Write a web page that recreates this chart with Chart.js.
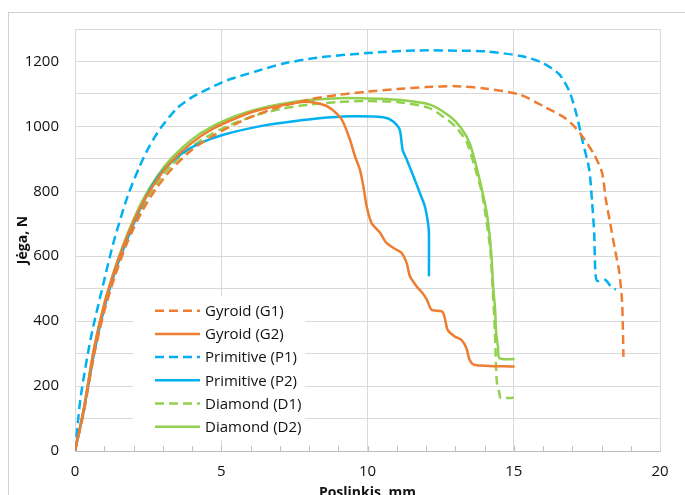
<!DOCTYPE html>
<html>
<head>
<meta charset="utf-8">
<script src="https://cdn.jsdelivr.net/npm/chart.js@4.4.1/dist/chart.umd.min.js"></script>
<style>
  body { margin: 0; background: #fff; }
  #wrap { width: 685px; height: 495px; }
</style>
</head>
<body>
<div id="wrap"><canvas id="grafico" width="685" height="495"></canvas></div>
<script>
// [poslinkis mm, jėga N]
const gyroidG1 = [[0,0],[0.3,120],[0.65,295],[1.0,430],[1.35,535],[1.8,645],[2.3,740],[2.8,812],[3.3,868],[4.0,928],[4.7,970],[5.5,1008],[6.2,1035],[7,1060],[8,1083],[9,1097],[10,1107],[11,1115],[12,1121],[13,1124],[14,1117],[15.2,1098],[16.1,1058],[16.8,1023],[17.25,981],[17.75,913],[18.02,857],[18.15,774],[18.3,700],[18.45,625],[18.6,555],[18.7,466],[18.73,380],[18.75,290]];
const gyroidG2 = [[0,0],[0.3,130],[0.65,315],[1.0,452],[1.35,556],[1.8,665],[2.3,762],[2.8,835],[3.3,892],[4.0,950],[4.7,992],[5.5,1025],[6.2,1048],[7,1064],[7.9,1076],[8.4,1069],[8.72,1057],[9.12,1021],[9.4,959],[9.57,908],[9.74,867],[9.86,815],[9.97,754],[10.14,702],[10.43,672],[10.65,641],[10.99,620],[11.17,610],[11.34,579],[11.45,538],[11.68,507],[11.85,490],[12.02,468],[12.19,435],[12.57,428],[12.74,373],[12.98,353],[13.21,342],[13.38,317],[13.49,281],[13.66,265],[15.03,260]];
const primitiveP1 = [[0,0],[0.2,170],[0.55,352],[1.0,527],[1.34,650],[1.8,785],[2.2,875],[2.55,940],[2.93,995],[3.5,1057],[4.06,1093],[4.75,1124],[5.2,1142],[6.2,1170],[7.1,1193],[8.3,1212],[10,1226],[11.7,1234],[13.25,1233],[14.06,1231],[15.3,1216],[15.98,1196],[16.56,1160],[16.9,1108],[17.13,1042],[17.34,959],[17.58,867],[17.68,765],[17.75,672],[17.79,552],[17.85,524],[18.13,527],[18.32,507],[18.49,497]];
const primitiveP2 = [[0,0],[0.3,125],[0.65,300],[1.0,440],[1.4,560],[1.8,655],[2.2,740],[2.6,812],[3.0,863],[3.6,913],[4.3,949],[5.1,975],[6.3,1000],[7.1,1011],[8.27,1024],[9.41,1031],[10.53,1028],[10.87,1016],[11.1,990],[11.2,928],[11.34,898],[11.55,851],[11.79,795],[11.96,754],[12.07,702],[12.1,672],[12.1,538]];
const diamondD1 = [[0,0],[0.3,125],[0.65,305],[1.0,445],[1.35,548],[1.8,655],[2.3,752],[2.8,825],[3.3,880],[4.0,938],[4.7,978],[5.5,1012],[6.2,1035],[7,1053],[8,1067],[9,1075],[10,1078],[11,1075],[12.1,1057],[12.8,1016],[13.1,990],[13.4,950],[13.65,880],[13.9,800],[14.05,720],[14.2,620],[14.28,500],[14.34,400],[14.38,300],[14.42,214],[14.51,178],[14.55,164],[15.0,164]];
const diamondD2 = [[0,0],[0.3,130],[0.65,315],[1.0,452],[1.35,558],[1.8,670],[2.3,770],[2.8,845],[3.3,902],[4.0,960],[4.7,1000],[5.5,1032],[6.2,1052],[7,1068],[8,1081],[9,1087],[10,1086],[11,1082],[12.13,1067],[12.81,1031],[13.2,995],[13.49,949],[13.72,877],[13.95,790],[14.1,720],[14.23,610],[14.3,500],[14.36,440],[14.4,363],[14.46,322],[14.51,286],[15.03,283]];

const seriesData = [gyroidG1, gyroidG2, primitiveP1, primitiveP2, diamondD1, diamondD2];
const seriesNames = ["Gyroid (G1)", "Gyroid (G2)", "Primitive (P1)", "Primitive (P2)", "Diamond (D1)", "Diamond (D2)"];
const seriesColors = ["#ED7D31", "#ED7D31", "#00B0F0", "#00B0F0", "#92D050", "#92D050"];
const seriesDashed = [true, false, true, false, true, false];
const yLabels = [0, 200, 400, 600, 800, 1000, 1200];
const xLabels = [0, 5, 10, 15, 20];

const DASH = [9, 5];
const FONT = "'Open Sans', 'DejaVu Sans', sans-serif";

// ramas, mazos žymės ir legenda
const extras = {
  id: "extras",
  beforeDraw(chart) {
    const ctx = chart.ctx;
    ctx.save();
    ctx.strokeStyle = "#d0d0d0";
    ctx.lineWidth = 1;
    ctx.strokeRect(8.5, 12.5, 700, 500);
    ctx.restore();
  },
  afterDatasetsDraw(chart) {
    const ctx = chart.ctx;
    ctx.save();
    ctx.fillStyle = "#fff";
    ctx.fillRect(133, 296, 172, 144);
    seriesNames.forEach((name, i) => {
      const y = 310.7 + i * 23.2;
      ctx.beginPath();
      ctx.setLineDash(seriesDashed[i] ? DASH : []);
      ctx.strokeStyle = seriesColors[i];
      ctx.lineWidth = 2.5;
      ctx.moveTo(155, y);
      ctx.lineTo(200, y);
      ctx.stroke();
      ctx.setLineDash([]);
      ctx.fillStyle = "#111";
      ctx.font = "15px " + FONT;
      ctx.textBaseline = "middle";
      ctx.fillText(name, 205, y + 1);
    });
    ctx.restore();
  },
  afterDraw(chart) {
    const ctx = chart.ctx;
    const xs = chart.scales.x;
    const bottom = chart.chartArea.bottom;
    ctx.save();
    ctx.strokeStyle = "#bfbfbf";
    ctx.lineWidth = 1;
    for (let v = 1; v < 20; v++) {
      const px = Math.round(xs.getPixelForValue(v)) + 0.5;
      ctx.beginPath();
      ctx.moveTo(px, bottom);
      ctx.lineTo(px, bottom - 5);
      ctx.stroke();
    }
    ctx.restore();
  },
};

const ctx = document.getElementById("grafico").getContext("2d");

new Chart(ctx, {
  type: "line",
  data: {
    datasets: seriesData.map((pts, i) => ({
      label: seriesNames[i],
      data: pts.map((p) => ({ x: p[0], y: p[1] })),
      borderColor: seriesColors[i],
      borderWidth: 2.5,
      borderDash: seriesDashed[i] ? DASH : [],
      pointRadius: 0,
      tension: 0.25,
      fill: false,
    })),
  },
  options: {
    responsive: false,
    animation: false,
    layout: { padding: { left: 0, top: 29, right: 25, bottom: 0 } },
    plugins: {
      legend: { display: false },
      tooltip: { enabled: false },
    },
    scales: {
      x: {
        type: "linear",
        min: 0,
        max: 20,
        afterFit: (s) => { s.height = 44; },
        ticks: {
          stepSize: 1,
          autoSkip: false,
          maxRotation: 0,
          padding: 12,
          color: "#111",
          font: { family: FONT, size: 15 },
          callback: (v) => (xLabels.includes(v) ? v : ""),
        },
        grid: {
          drawTicks: false,
          color: (c) => (c.tick && xLabels.includes(c.tick.value) ? "#d9d9d9" : "rgba(0,0,0,0)"),
        },
        border: { color: "#bfbfbf" },
        title: {
          display: true,
          text: "Poslinkis, mm",
          color: "#111",
          font: { family: FONT, size: 14, weight: "bold" },
          padding: { top: 0, bottom: -6 },
        },
      },
      y: {
        min: 0,
        max: 1300,
        afterFit: (s) => { s.width = 75; },
        ticks: {
          stepSize: 100,
          padding: 16,
          color: "#111",
          font: { family: FONT, size: 15 },
          callback: (v) => (yLabels.includes(v) ? v : ""),
        },
        grid: { drawTicks: false, color: "#d9d9d9" },
        border: { color: "#d9d9d9" },
        title: {
          display: true,
          text: "Jėga, N",
          color: "#111",
          font: { family: FONT, size: 14, weight: "bold" },
          padding: { top: 15, bottom: 0 },
        },
      },
    },
  },
  plugins: [extras],
});
</script>
</body>
</html>
